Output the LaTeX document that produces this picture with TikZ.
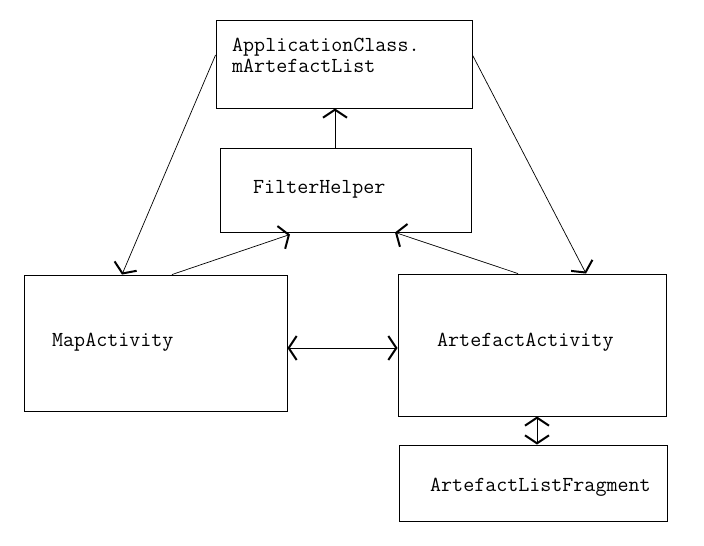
\documentclass[tikz,border=0pt]{standalone}
\usepackage{fontspec}
\usetikzlibrary{arrows.meta}
\tikzset{
  box/.style={draw, line width=0.9pt, inner sep=0pt},
  lbl/.style={anchor=base west, inner sep=0pt, font=\ttfamily\fontsize{21.4pt}{21pt}\selectfont},
  tip/.tip={Straight Barb[length=8pt,width=24pt,line width=2pt]},
  conn/.style={line width=0.7pt, -tip},
  dconn/.style={line width=0.7pt, tip-tip}
}
\begin{document}
\begin{tikzpicture}[x=1pt,y=-1pt]
\useasboundingbox[fill=white] (0,0) rectangle (704,546);
\node[box, minimum width=256pt, minimum height=88pt] (app) at (344,64) {};
\node[box, minimum width=251pt, minimum height=84pt] (filter) at (345.5,190) {};
\node[box, minimum width=263pt, minimum height=136pt] (map) at (155.5,343) {};
\node[box, minimum width=268pt, minimum height=142pt] (art) at (532,345) {};
\node[box, minimum width=268pt, minimum height=76pt] (frag) at (533,483) {};
\node[lbl] (t1) at (232,51) {ApplicationClass.};
\node[lbl] (t2) at (232,72) {mArtefactList};
\node[lbl] (t3) at (253,193) {FilterHelper};
\node[lbl] (t4) at (52,346) {MapActivity};
\node[lbl] (t5) at (437,346) {ArtefactActivity};
\node[lbl] (t6) at (430,491) {ArtefactListFragment};
\draw[conn] ([yshift=9pt]app.west) -- ([xshift=-33.5pt]map.north);
\draw[conn] ([yshift=9pt]app.east) -- ([xshift=54pt]art.north);
\draw[conn] ([xshift=-10.5pt]filter.north) -- ([xshift=-9pt]app.south);
\draw[conn] ([xshift=16.5pt]map.north) -- ([xshift=-55.5pt,yshift=-2pt]filter.south);
\draw[conn] ([xshift=-14pt]art.north) -- ([xshift=49.5pt]filter.south);
\draw[dconn] ([yshift=-5pt]map.east) -- ([yshift=-3pt]art.west);
\draw[dconn] ([xshift=5pt]art.south) -- ([xshift=4pt]frag.north);
\end{tikzpicture}
\end{document}
